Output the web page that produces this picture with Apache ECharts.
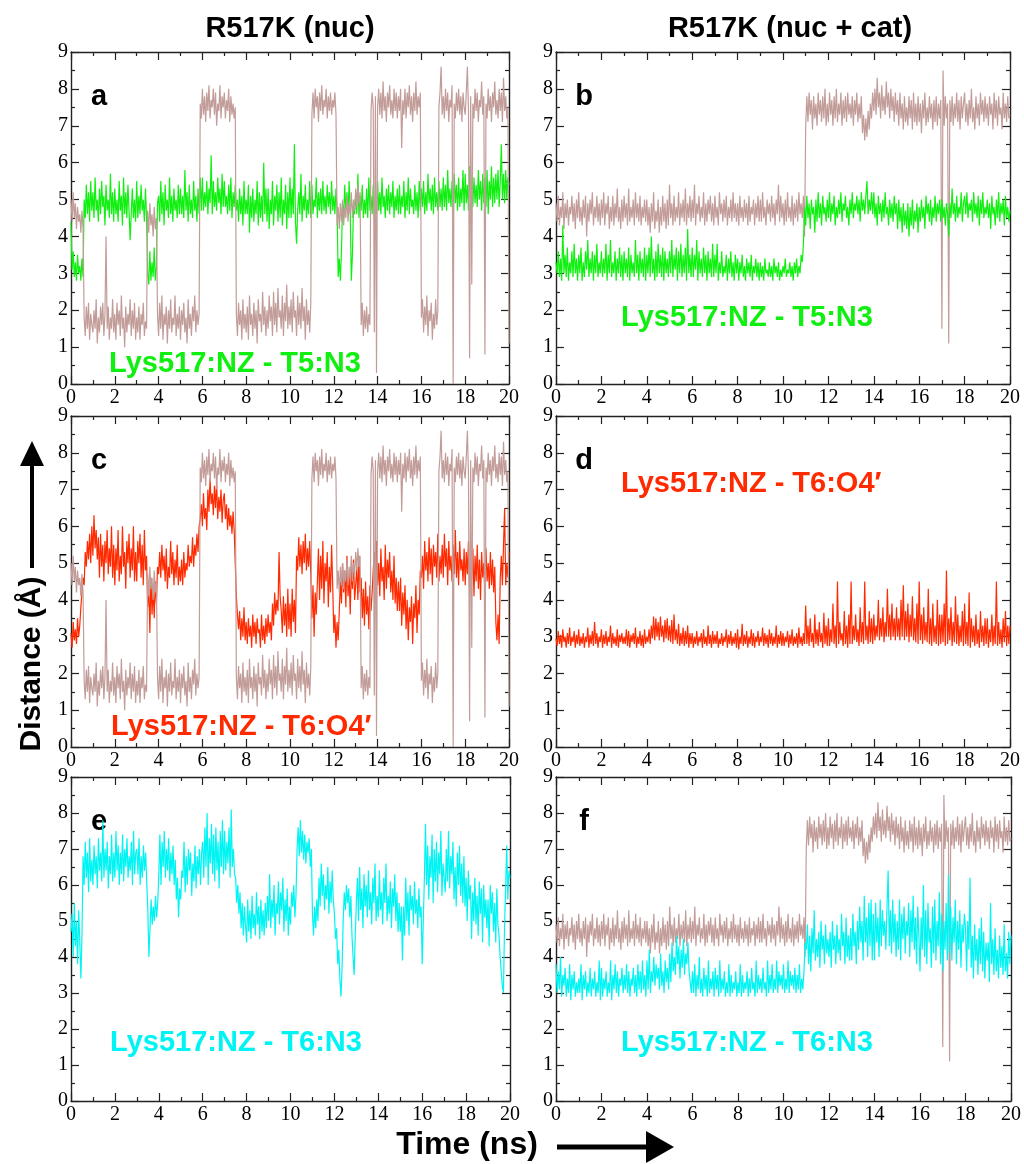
<!DOCTYPE html>
<html>
<head>
<meta charset="utf-8">
<script src="https://cdn.jsdelivr.net/npm/echarts@6/dist/echarts.min.js"></script>
<style>
  html, body { margin: 0; padding: 0; background: #fff; }
  #chart { width: 1024px; height: 1164px; }
</style>
</head>
<body>
<div id="chart"></div>
<script>
// Sampling interval of every trace (ns); traces start at t = 0 and run to 20 ns (401 samples).
const timeStep = 0.05;
const timeTicks = [0, 2, 4, 6, 8, 10, 12, 14, 16, 18, 20];
const distTicks = [0, 1, 2, 3, 4, 5, 6, 7, 8, 9];

// Reference distance (brown) in the nuc-only run, shown in panels a and c. One row = 1 ns.
const brownNuc = [
  5.0, 4.4, 5.2, 4.5, 4.9, 4.2, 4.8, 4.4, 4.6, 4.1, 4.7, 4.2, 1.8, 1.3, 2.1, 1.5, 2.2, 1.2, 1.9, 1.6,
  1.4, 2.0, 1.5, 2.3, 1.1, 1.8, 1.4, 2.1, 1.6, 2.2, 1.3, 1.9, 4.0, 1.5, 2.1, 1.2, 1.8, 1.5, 2.3, 1.4,
  1.9, 1.2, 2.2, 1.6, 2.0, 1.3, 2.4, 1.5, 1.8, 1.0, 2.1, 1.4, 1.9, 1.6, 2.3, 1.3, 2.0, 1.5, 2.2, 1.2,
  1.8, 1.4, 2.1, 1.2, 1.9, 1.6, 2.2, 1.3, 1.7, 1.5, 4.7, 4.1, 4.9, 4.3, 4.6, 4.0, 4.8, 4.2, 4.5, 1.9,
  1.3, 2.2, 1.5, 2.4, 1.2, 1.9, 1.6, 2.1, 1.1, 2.0, 1.5, 2.3, 1.4, 1.8, 1.6, 2.4, 1.3, 1.9, 1.5, 2.1,
  1.2, 2.0, 1.6, 2.2, 1.4, 1.8, 1.1, 2.3, 1.5, 1.9, 1.3, 2.1, 1.7, 2.4, 1.4, 2.0, 1.6, 1.9, 7.6, 7.2,
  8.0, 7.3, 7.8, 7.1, 7.9, 7.4, 8.1, 7.2, 7.7, 7.5, 8.0, 7.3, 7.9, 7.0, 7.6, 7.4, 8.1, 7.2, 7.8, 7.5,
  7.9, 7.2, 7.7, 7.4, 8.0, 7.1, 7.8, 7.3, 7.6, 7.2, 7.5, 1.9, 1.3, 2.2, 1.6, 2.0, 1.2, 2.3, 1.5, 1.9,
  1.4, 2.1, 1.2, 2.4, 1.6, 1.9, 1.3, 2.2, 1.5, 2.0, 1.1, 2.3, 1.7, 1.9, 1.4, 2.5, 1.6, 2.1, 1.3, 2.0,
  1.5, 2.4, 1.7, 2.1, 1.3, 2.5, 1.6, 2.2, 1.4, 2.6, 1.8, 2.0, 1.5, 2.4, 1.3, 2.2, 1.7, 2.7, 1.5, 2.1,
  1.6, 2.3, 1.4, 2.5, 1.8, 2.0, 1.3, 2.4, 1.6, 2.2, 1.5, 2.6, 1.7, 2.1, 1.2, 2.3, 1.6, 2.0, 1.4, 2.2,
  7.3, 7.9, 7.2, 8.0, 7.5, 7.8, 7.1, 7.9, 7.4, 8.1, 7.3, 7.7, 7.5, 8.0, 7.2, 7.8, 7.4, 7.9, 7.3, 7.7,
  7.5, 7.9, 7.3, 4.3, 4.8, 4.2, 4.9, 4.4, 5.0, 4.3, 4.8, 4.5, 5.1, 4.4, 4.9, 4.6, 5.2, 4.5, 5.0, 4.7,
  5.3, 4.8, 5.4, 4.9, 5.2, 1.6, 2.2, 1.3, 2.0, 1.5, 2.1, 1.4, 1.9, 1.6, 7.4, 7.9, 7.5, 1.4, 7.8, 0.3,
  7.5, 8.0, 7.3, 7.9, 7.2, 8.2, 7.4, 7.8, 7.1, 7.9, 7.5, 8.1, 7.3, 7.7, 7.2, 8.0, 7.4, 7.9, 7.2, 7.8,
  7.4, 8.0, 6.4, 7.7, 7.3, 8.0, 7.2, 7.9, 7.5, 8.1, 7.3, 7.8, 7.1, 7.9, 7.4, 8.2, 7.3, 7.8, 7.5, 7.9,
  1.8, 2.3, 1.4, 2.1, 1.6, 2.4, 1.3, 2.0, 1.7, 2.2, 1.2, 1.9, 1.5, 2.3, 1.6, 2.0, 7.5, 7.9, 8.6, 7.3,
  7.8, 7.2, 8.0, 7.4, 7.9, 7.1, 7.7, 7.5, 8.1, 0.0, 7.6, 7.2, 7.9, 7.4, 8.0, 7.3, 7.8, 7.1, 7.9, 7.5,
  7.3, 7.9, 8.6, 7.4, 0.7, 7.8, 2.7, 7.6, 7.2, 8.0, 7.4, 7.9, 7.1, 7.7, 7.5, 8.2, 7.3, 7.8, 0.8, 7.6,
  7.2, 8.0, 7.4, 7.8, 7.1, 7.9, 7.5, 8.2, 7.3, 7.7, 7.2, 8.0, 7.4, 7.9, 7.1, 8.3, 7.4, 7.8, 7.2, 7.5,
  1.1
];

// Reference distance (brown) in the nuc + cat run, shown in panels b and f.
const brownCat = [
  4.9, 4.4, 5.1, 4.3, 4.8, 4.5, 5.2, 4.2, 4.9, 4.5, 5.0, 4.3, 4.8, 4.6, 5.1, 4.4, 4.9, 4.2, 5.0, 4.5,
  5.2, 4.4, 4.8, 4.3, 5.0, 4.5, 5.1, 4.0, 4.9, 4.4, 5.0, 4.6, 5.2, 4.3, 4.8, 4.5, 5.1, 4.4, 4.9, 4.3,
  5.0, 4.5, 5.2, 4.3, 4.9, 4.6, 5.1, 4.2, 4.8, 4.4, 5.1, 4.3, 4.9, 4.5, 5.3, 4.4, 4.8, 4.2, 5.0, 4.4,
  5.1, 4.5, 4.9, 4.3, 5.3, 4.4, 4.8, 4.5, 5.0, 4.3, 5.2, 4.5, 4.9, 4.4, 5.1, 4.3, 4.8, 4.5, 5.0, 4.4,
  5.0, 4.3, 4.8, 4.1, 4.9, 4.4, 5.2, 4.2, 4.7, 4.4, 5.0, 4.1, 4.8, 4.3, 5.1, 4.4, 4.9, 4.2, 5.0, 4.3,
  5.4, 4.5, 4.9, 4.3, 5.1, 4.4, 4.8, 4.5, 5.2, 4.3, 4.9, 4.5, 5.0, 4.4, 5.3, 4.3, 4.9, 4.5, 5.1, 4.4,
  5.0, 4.5, 5.4, 4.3, 4.9, 4.6, 5.1, 4.4, 4.8, 4.5, 5.2, 4.3, 4.9, 4.4, 5.0, 4.6, 5.1, 4.4, 4.9, 4.3,
  5.1, 4.5, 4.8, 4.3, 5.2, 4.6, 4.9, 4.4, 5.0, 4.5, 5.1, 4.3, 4.8, 4.5, 5.0, 4.4, 5.2, 4.5, 4.9, 4.4,
  4.9, 4.3, 5.1, 4.5, 4.8, 4.4, 5.0, 4.5, 4.9, 4.3, 5.1, 4.4, 4.8, 4.6, 5.0, 4.3, 4.9, 4.5, 5.1, 4.4,
  5.0, 4.4, 5.2, 4.5, 4.8, 4.3, 5.0, 4.6, 4.9, 4.4, 5.1, 4.5, 4.9, 4.3, 5.0, 4.6, 5.4, 4.4, 5.1, 4.5,
  4.9, 4.3, 5.0, 4.4, 5.2, 4.5, 4.8, 4.4, 5.1, 4.3, 4.9, 4.5, 5.0, 4.4, 5.2, 4.6, 4.9, 4.5, 5.1, 4.0,
  7.0, 7.8, 7.1, 7.9, 7.3, 7.7, 6.9, 7.8, 7.2, 7.6, 7.0, 7.9, 7.3, 7.7, 7.1, 7.8, 7.2, 8.0, 7.0, 7.6,
  7.1, 7.9, 7.3, 7.7, 7.0, 7.8, 7.2, 8.0, 7.1, 7.6, 7.3, 7.9, 7.0, 7.7, 7.2, 7.8, 7.1, 7.9, 7.3, 7.6,
  7.2, 7.8, 7.0, 7.7, 7.3, 7.9, 7.1, 7.6, 7.2, 7.8, 6.8, 7.3, 6.6, 7.2, 6.7, 7.4, 6.9, 7.6, 7.2, 7.9,
  7.4, 8.0, 7.3, 8.3, 7.5, 7.9, 7.2, 8.1, 7.4, 7.8, 7.3, 8.2, 7.5, 7.9, 7.2, 8.0, 7.4, 7.8, 7.1, 7.9,
  7.3, 7.7, 7.0, 7.9, 7.2, 7.6, 6.9, 7.8, 7.1, 7.5, 7.0, 7.8, 7.2, 7.7, 6.9, 7.9, 7.1, 7.6, 7.0, 7.8,
  7.1, 7.6, 6.8, 7.7, 7.2, 7.9, 7.0, 7.5, 7.1, 7.8, 7.2, 7.6, 6.9, 7.7, 7.1, 7.8, 7.0, 7.6, 7.2, 7.7,
  1.5, 8.5, 7.0, 7.8, 7.2, 7.6, 1.1, 7.7, 7.1, 7.8, 7.0, 7.6, 7.2, 7.9, 7.1, 7.7, 6.9, 7.8, 7.2, 7.6,
  7.9, 7.1, 7.6, 7.0, 7.7, 7.2, 8.0, 7.1, 7.5, 6.9, 7.8, 7.2, 7.6, 7.0, 7.9, 7.3, 7.7, 7.1, 7.8, 7.2,
  7.6, 7.0, 7.8, 7.3, 7.6, 6.9, 7.9, 7.2, 7.7, 7.0, 7.8, 7.3, 7.5, 6.9, 7.9, 7.2, 7.6, 7.1, 7.8, 7.2,
  7.3
];

// Lys517:NZ - T5:N3, nuc run (panel a)
const t5n3Nuc = [
  4.4, 3.1, 3.6, 2.9, 3.3, 2.8, 3.5, 3.0, 3.2, 2.8, 3.4, 2.9, 5.0, 4.5, 5.4, 4.6, 5.2, 4.4, 5.5, 4.7,
  5.2, 4.5, 5.6, 4.7, 5.0, 4.4, 5.3, 4.6, 5.5, 4.8, 5.1, 4.3, 5.4, 4.7, 5.0, 4.5, 5.7, 4.6, 5.2, 4.4,
  5.3, 4.6, 5.0, 4.4, 5.5, 4.7, 5.1, 4.3, 5.6, 4.6, 5.2, 4.5, 5.4, 4.7, 3.9, 4.6, 5.3, 4.5, 5.0, 4.4,
  5.5, 4.5, 5.1, 4.6, 5.4, 4.7, 5.0, 4.4, 5.3, 4.5, 3.0, 2.7, 3.6, 2.8, 3.3, 2.9, 3.7, 2.8, 3.2, 4.9,
  5.1, 4.4, 5.5, 4.6, 5.2, 4.3, 5.4, 4.7, 5.0, 4.5, 5.6, 4.6, 5.1, 4.4, 5.3, 4.7, 5.0, 4.5, 5.4, 4.6,
  5.3, 4.6, 5.1, 4.5, 5.8, 4.7, 5.2, 4.4, 5.4, 4.6, 5.0, 4.5, 5.5, 4.7, 5.1, 4.4, 5.3, 4.6, 5.6, 4.7,
  5.6, 4.7, 5.2, 4.8, 5.5, 4.6, 5.3, 4.9, 6.2, 4.6, 5.5, 4.8, 5.2, 4.7, 5.6, 4.9, 5.3, 4.6, 5.7, 4.8,
  5.5, 4.8, 5.1, 4.6, 5.4, 4.7, 5.6, 4.5, 5.2, 4.8, 5.4, 4.7, 5.0, 4.4, 5.3, 4.6, 5.1, 4.3, 5.5, 4.6,
  5.0, 4.6, 5.4, 4.1, 5.1, 4.5, 5.3, 4.4, 5.0, 4.6, 5.5, 4.3, 5.2, 4.5, 5.1, 4.4, 6.0, 4.6, 5.3, 4.4,
  5.3, 4.2, 5.0, 4.6, 5.5, 4.3, 5.1, 4.7, 5.4, 4.4, 5.2, 4.5, 5.6, 4.3, 5.0, 4.6, 5.4, 4.2, 5.2, 4.5,
  5.6, 4.5, 5.3, 4.6, 6.5, 4.4, 3.8, 4.7, 5.2, 4.6, 5.7, 4.4, 5.1, 4.7, 5.4, 4.5, 5.0, 4.6, 5.5, 4.5,
  5.4, 4.6, 5.0, 4.8, 5.6, 4.5, 5.2, 4.7, 5.3, 4.6, 5.5, 4.7, 5.1, 4.6, 5.4, 4.8, 5.2, 4.6, 5.5, 4.7,
  5.1, 4.6, 5.3, 4.7, 2.9, 3.4, 2.8, 3.6, 4.9, 4.5, 5.4, 4.7, 5.2, 4.6, 5.5, 4.7, 2.8, 3.5, 4.8, 4.6,
  5.2, 4.6, 5.7, 4.5, 5.1, 4.7, 5.4, 4.5, 5.0, 4.6, 5.3, 4.5, 5.6, 4.7, 5.1, 4.6, 5.4, 4.5, 5.0, 4.6,
  5.5, 4.7, 5.2, 4.6, 5.6, 4.8, 5.1, 4.5, 5.3, 4.7, 5.4, 4.6, 5.2, 4.8, 5.5, 4.5, 5.1, 4.7, 5.3, 4.6,
  5.4, 4.6, 5.1, 4.8, 5.5, 4.5, 5.2, 4.7, 5.6, 4.6, 5.3, 4.8, 5.0, 4.6, 5.4, 4.7, 5.2, 4.5, 5.5, 4.7,
  5.3, 4.8, 5.5, 4.6, 5.2, 4.7, 5.7, 4.9, 5.3, 4.7, 5.4, 4.6, 5.6, 4.8, 5.2, 4.7, 5.5, 4.8, 5.3, 4.7,
  5.6, 4.8, 5.4, 4.7, 5.8, 4.9, 5.3, 4.8, 5.5, 4.6, 5.7, 4.9, 5.4, 4.7, 5.6, 4.8, 5.3, 4.9, 5.8, 4.7,
  5.7, 4.9, 5.4, 4.7, 5.9, 5.0, 5.5, 4.8, 5.6, 4.9, 5.4, 4.8, 5.8, 5.0, 5.5, 4.7, 5.7, 4.9, 5.6, 4.8,
  5.8, 4.6, 5.5, 5.0, 5.9, 4.8, 5.6, 4.9, 5.7, 5.0, 5.8, 4.8, 5.5, 6.5, 5.0, 5.7, 4.9, 5.8, 5.0, 5.6,
  5.4
];

// Lys517:NZ - T5:N3, nuc + cat run (panel b)
const t5n3Cat = [
  3.3, 3.0, 3.6, 2.9, 3.4, 2.8, 4.3, 3.0, 3.5, 2.9, 3.7, 2.8, 3.3, 3.0, 3.6, 2.9, 3.8, 3.0, 3.4, 2.8,
  3.5, 3.0, 3.7, 2.8, 3.3, 2.9, 3.6, 3.1, 3.9, 2.9, 3.4, 3.0, 3.6, 2.8, 3.5, 3.0, 3.8, 2.9, 3.3, 3.0,
  3.6, 2.9, 3.4, 3.0, 3.8, 2.8, 3.5, 3.0, 3.9, 2.9, 3.3, 3.0, 3.6, 2.8, 3.4, 3.0, 3.7, 2.9, 3.5, 2.8,
  3.6, 3.0, 3.4, 2.9, 3.7, 2.8, 3.5, 3.0, 3.3, 2.9, 3.9, 3.0, 3.5, 2.8, 3.6, 3.0, 3.4, 2.9, 3.7, 2.8,
  3.5, 3.0, 3.7, 2.9, 4.0, 3.0, 3.4, 2.8, 3.6, 2.9, 3.8, 3.0, 3.5, 2.9, 3.7, 2.8, 3.6, 3.0, 3.4, 2.9,
  3.6, 3.0, 3.9, 2.9, 3.5, 3.1, 3.7, 2.8, 3.6, 3.0, 3.8, 2.9, 3.5, 3.0, 3.7, 2.8, 4.2, 3.0, 3.5, 2.9,
  3.7, 2.9, 3.5, 3.1, 3.9, 2.8, 3.6, 3.0, 3.4, 2.9, 3.7, 3.0, 3.5, 2.8, 3.6, 3.0, 3.4, 2.9, 3.8, 2.9,
  3.5, 3.0, 3.8, 2.8, 3.3, 3.0, 3.6, 2.9, 3.2, 3.0, 3.5, 2.8, 3.4, 3.0, 3.6, 2.9, 3.3, 2.8, 3.5, 3.0,
  3.4, 2.8, 3.3, 3.0, 3.5, 2.9, 3.2, 2.8, 3.4, 3.0, 3.3, 2.9, 3.5, 2.8, 3.2, 3.0, 3.4, 2.9, 3.3, 2.8,
  3.3, 2.9, 3.2, 2.8, 3.4, 3.0, 3.1, 2.9, 3.3, 2.9, 3.2, 2.8, 3.4, 3.0, 3.2, 2.9, 3.3, 2.8, 3.1, 2.9,
  3.2, 3.0, 3.4, 2.9, 3.1, 3.0, 3.3, 2.9, 3.2, 2.8, 3.3, 3.0, 3.4, 2.9, 3.2, 3.0, 3.5, 3.3, 3.8, 4.8,
  4.3, 5.1, 4.5, 4.9, 4.2, 5.0, 4.6, 4.8, 4.1, 5.0, 4.4, 5.2, 4.5, 4.9, 4.3, 5.1, 4.6, 4.8, 4.4, 5.0,
  4.5, 5.2, 4.4, 4.9, 4.6, 5.1, 4.3, 4.8, 4.5, 5.0, 4.6, 5.2, 4.4, 4.9, 4.7, 5.1, 4.5, 4.8, 4.3, 5.0,
  4.6, 5.2, 4.5, 4.9, 4.7, 5.1, 4.6, 5.0, 4.4, 5.2, 4.7, 5.0, 4.6, 5.1, 5.5, 4.6, 5.0, 4.7, 5.2, 4.6,
  5.2, 4.5, 4.9, 4.3, 5.1, 4.6, 4.9, 4.4, 5.0, 4.5, 5.2, 4.6, 4.8, 4.3, 5.0, 4.5, 4.9, 4.4, 5.1, 4.6,
  4.9, 4.2, 5.0, 4.4, 4.8, 4.1, 4.9, 4.3, 4.7, 4.2, 4.9, 4.0, 4.8, 4.3, 5.0, 4.2, 4.7, 4.4, 4.9, 4.1,
  4.8, 4.4, 5.0, 4.5, 4.8, 4.2, 5.1, 4.6, 4.9, 4.4, 5.0, 4.3, 4.8, 4.5, 5.1, 4.4, 4.9, 4.6, 5.0, 4.4,
  5.0, 4.5, 4.8, 4.3, 4.9, 4.6, 4.0, 4.9, 4.5, 5.3, 4.6, 4.9, 4.4, 5.1, 4.5, 4.8, 4.6, 5.2, 4.4, 4.9,
  5.1, 4.6, 5.2, 4.5, 4.9, 4.7, 5.0, 4.4, 5.2, 4.6, 4.9, 4.5, 5.1, 4.3, 5.0, 4.6, 5.2, 4.5, 4.8, 4.6,
  5.0, 4.5, 4.9, 4.2, 5.1, 4.6, 4.8, 4.3, 5.0, 4.5, 5.2, 4.4, 4.9, 4.6, 5.0, 4.3, 5.1, 4.5, 4.8, 4.4,
  4.7
];

// Lys517:NZ - T6:O4', nuc run (panel c)
const t6o4Nuc = [
  3.1, 2.7, 3.4, 2.9, 3.2, 2.8, 3.5, 3.0, 3.3, 3.8, 4.2, 4.6, 4.4, 5.3, 4.9, 5.6, 5.1, 5.8, 5.0, 6.0,
  5.2, 6.3, 5.4, 5.9, 5.1, 5.7, 4.6, 5.8, 4.9, 5.5, 4.5, 5.6, 5.0, 5.9, 4.7, 5.4, 4.9, 6.0, 4.6, 5.5,
  4.4, 5.4, 4.8, 5.9, 4.5, 5.2, 4.7, 6.0, 4.9, 5.3, 4.3, 5.6, 5.0, 5.8, 4.6, 5.4, 4.8, 6.0, 4.5, 5.3,
  4.5, 5.6, 5.0, 5.8, 4.6, 5.5, 4.4, 5.9, 4.8, 5.2, 3.8, 4.4, 3.1, 4.6, 3.6, 4.3, 3.5, 4.5, 3.9, 4.9,
  4.7, 5.3, 4.6, 5.5, 4.8, 5.2, 4.5, 5.4, 4.3, 4.9, 4.6, 5.6, 4.7, 5.3, 4.4, 5.1, 4.6, 5.5, 4.4, 4.9,
  4.5, 5.1, 4.4, 5.3, 4.6, 5.0, 4.8, 5.5, 4.9, 5.2, 5.0, 5.7, 4.9, 5.5, 5.2, 5.8, 5.3, 6.0, 6.2, 6.6,
  6.0, 6.9, 6.2, 6.5, 5.9, 7.0, 6.4, 7.3, 6.6, 6.9, 6.3, 7.1, 6.5, 7.2, 6.2, 6.8, 6.4, 7.0, 6.1, 6.7,
  6.9, 6.2, 6.6, 5.9, 6.5, 6.0, 6.3, 5.8, 6.4, 5.9, 5.0, 4.1, 3.6, 3.2, 3.7, 2.9, 3.5, 3.0, 3.8, 2.9,
  3.4, 2.8, 3.5, 3.0, 3.3, 2.7, 3.6, 3.0, 3.4, 2.8, 3.5, 3.1, 3.2, 2.7, 3.6, 2.9, 3.3, 2.8, 3.5, 3.0,
  3.6, 3.1, 3.4, 2.9, 3.9, 3.3, 4.2, 3.6, 4.0, 3.7, 5.3, 4.1, 3.7, 3.1, 4.1, 3.3, 3.9, 3.0, 4.3, 3.2,
  3.9, 3.0, 4.3, 3.4, 4.0, 3.1, 5.2, 4.8, 5.7, 4.9, 5.5, 4.7, 5.6, 5.0, 5.8, 4.8, 5.4, 4.9, 5.6, 4.7,
  3.5, 4.4, 3.0, 4.2, 3.6, 4.5, 5.4, 4.0, 5.2, 4.3, 5.6, 3.9, 5.0, 4.5, 5.3, 3.8, 4.9, 4.2, 5.5, 4.4,
  3.1, 3.6, 2.7, 3.4, 2.9, 3.7, 4.5, 3.9, 5.0, 4.2, 4.8, 3.8, 5.2, 4.1, 4.7, 3.6, 4.9, 4.3, 5.1, 4.0,
  4.4, 4.9, 4.0, 5.2, 4.2, 4.6, 3.5, 4.3, 3.3, 4.5, 3.6, 4.1, 3.2, 4.4, 3.7, 4.2, 4.8, 5.3, 4.3, 5.6,
  4.4, 5.0, 4.1, 5.4, 4.5, 4.9, 4.0, 5.5, 4.3, 5.1, 4.6, 5.3, 4.2, 4.8, 4.0, 5.2, 3.9, 4.6, 3.7, 4.5,
  3.7, 4.6, 3.3, 4.2, 3.6, 4.4, 3.2, 4.0, 2.9, 3.8, 3.4, 4.1, 2.8, 3.9, 3.5, 4.4, 3.1, 4.0, 3.6, 4.8,
  4.6, 5.2, 4.3, 5.6, 4.8, 5.3, 4.5, 5.7, 4.7, 5.4, 4.4, 5.5, 4.9, 5.3, 4.6, 5.8, 4.5, 5.2, 4.7, 5.5,
  4.6, 5.8, 4.9, 5.4, 4.4, 5.6, 4.8, 5.2, 4.5, 5.5, 4.7, 5.9, 4.6, 5.3, 4.4, 5.6, 4.8, 5.1, 4.5, 5.4,
  4.4, 5.3, 4.7, 5.6, 4.2, 5.0, 4.6, 5.4, 4.1, 5.2, 4.5, 5.5, 4.3, 5.1, 4.0, 5.3, 4.6, 5.0, 4.2, 5.4,
  4.5, 5.0, 4.3, 5.3, 4.4, 5.1, 4.2, 4.9, 3.4, 2.9, 3.6, 2.8, 4.6, 5.2, 4.4, 5.5, 6.5, 4.4, 5.0, 4.6,
  5.3
];

// Lys517:NZ - T6:O4', nuc + cat run (panel d)
const t6o4Cat = [
  2.95, 2.75, 3.15, 2.8, 3.05, 2.7, 3.2, 2.85, 3.0, 2.7, 3.1, 2.8, 3.25, 2.75, 3.0, 2.85, 3.15, 2.7, 3.05, 2.8,
  3.2, 2.75, 3.0, 2.8, 3.1, 2.7, 3.0, 2.85, 3.25, 2.7, 3.05, 2.8, 3.15, 2.75, 3.4, 2.8, 3.1, 2.7, 3.0, 2.85,
  3.2, 2.7, 3.05, 2.8, 3.15, 2.75, 3.0, 2.85, 3.3, 2.7, 3.1, 2.8, 3.0, 2.75, 3.2, 2.7, 3.05, 2.85, 3.1, 2.8,
  3.0, 2.8, 3.2, 2.75, 3.15, 2.7, 3.05, 2.85, 3.1, 2.8, 3.25, 2.7, 3.0, 2.8, 3.15, 2.75, 3.05, 2.7, 3.2, 2.8,
  3.0, 2.85, 3.2, 2.8, 3.3, 2.95, 3.55, 2.9, 3.5, 3.0, 3.4, 2.9, 3.55, 3.0, 3.3, 2.85, 3.45, 2.95, 3.5, 2.9,
  3.3, 2.85, 3.45, 2.8, 3.6, 2.9, 3.2, 2.8, 3.35, 2.75, 3.1, 2.8, 3.25, 2.75, 3.15, 2.8, 3.3, 2.7, 3.1, 2.8,
  3.1, 2.7, 3.0, 2.8, 3.15, 2.75, 3.0, 2.85, 3.1, 2.7, 3.2, 2.8, 3.0, 2.75, 3.3, 2.8, 3.05, 2.7, 3.15, 2.8,
  3.05, 2.8, 3.15, 2.7, 2.95, 2.8, 3.1, 2.75, 3.0, 2.85, 3.2, 2.7, 3.05, 2.8, 3.15, 2.75, 3.0, 2.8, 3.1, 2.7,
  3.2, 2.65, 3.0, 2.8, 3.35, 2.75, 3.05, 2.8, 3.15, 2.7, 3.0, 2.8, 3.2, 2.75, 3.1, 2.7, 3.0, 2.85, 3.15, 2.75,
  3.0, 2.85, 3.25, 2.75, 3.1, 2.8, 3.05, 2.7, 3.2, 2.8, 3.1, 2.75, 3.0, 2.8, 3.3, 2.7, 3.05, 2.8, 3.15, 2.75,
  3.1, 2.75, 3.0, 2.85, 3.15, 2.7, 3.05, 2.8, 3.2, 2.75, 3.0, 2.8, 3.1, 2.7, 3.25, 2.8, 3.0, 2.75, 3.1, 2.8,
  3.85, 2.8, 3.3, 2.75, 3.5, 2.85, 3.1, 2.7, 3.6, 2.8, 3.2, 2.75, 3.4, 2.85, 3.1, 2.7, 3.65, 2.8, 3.3, 2.75,
  3.5, 2.75, 3.2, 2.85, 3.9, 2.8, 3.3, 2.7, 4.5, 2.8, 3.4, 2.9, 3.1, 2.75, 3.7, 2.8, 3.3, 2.7, 3.6, 2.8,
  4.5, 2.8, 3.3, 2.9, 3.6, 2.85, 3.2, 2.75, 3.8, 2.85, 3.4, 2.8, 4.5, 2.9, 3.3, 2.8, 3.7, 2.85, 3.5, 2.8,
  3.6, 2.9, 3.3, 3.0, 4.0, 2.9, 3.5, 3.0, 3.8, 2.85, 3.4, 3.0, 4.3, 3.0, 3.6, 2.9, 3.9, 3.0, 3.5, 2.9,
  3.8, 3.0, 3.5, 2.9, 4.0, 3.0, 4.4, 2.9, 3.7, 3.0, 3.9, 2.85, 3.6, 3.0, 4.1, 2.9, 3.5, 2.85, 3.9, 2.8,
  4.5, 2.9, 3.6, 2.8, 3.8, 2.9, 3.4, 2.85, 4.3, 2.8, 3.5, 2.75, 3.9, 2.85, 3.3, 2.8, 4.0, 2.75, 3.6, 2.8,
  3.6, 2.85, 3.9, 2.75, 4.8, 2.8, 3.5, 2.9, 3.8, 2.75, 3.4, 2.85, 4.1, 2.8, 3.6, 2.75, 3.3, 2.85, 3.7, 2.75,
  3.9, 2.8, 3.4, 2.75, 4.2, 2.7, 3.5, 2.85, 3.3, 2.75, 3.6, 2.8, 3.2, 2.7, 3.7, 2.85, 3.3, 2.75, 3.5, 2.8,
  3.5, 2.7, 3.2, 2.85, 3.6, 2.75, 3.3, 2.8, 4.5, 2.75, 3.4, 2.8, 3.2, 2.7, 3.5, 2.85, 3.7, 2.75, 3.3, 2.8,
  3.3
];

// Lys517:NZ - T6:N3, nuc run (panel e)
const t6n3Nuc = [
  4.7, 5.2, 4.0, 5.5, 4.3, 5.0, 3.8, 5.3, 4.4, 3.4, 4.6, 6.8, 6.0, 7.2, 6.2, 6.9, 5.8, 7.3, 6.1, 6.7,
  6.0, 7.1, 6.3, 6.8, 5.9, 7.3, 6.4, 6.9, 6.1, 7.8, 6.2, 7.0, 6.4, 7.2, 5.9, 6.8, 6.3, 7.4, 6.1, 6.9,
  6.2, 7.5, 6.4, 7.1, 6.0, 6.9, 6.3, 7.4, 6.1, 7.0, 6.5, 7.3, 6.2, 6.8, 6.4, 7.2, 6.0, 7.5, 6.3, 6.9,
  7.0, 6.3, 7.3, 6.0, 6.8, 6.2, 7.1, 6.4, 6.9, 6.1, 5.3, 4.0, 4.8, 5.6, 4.9, 5.4, 5.0, 5.7, 5.1, 5.5,
  6.3, 7.4, 6.0, 7.2, 6.5, 7.5, 6.2, 7.0, 6.4, 7.3, 6.1, 6.9, 6.3, 7.1, 6.0, 6.7, 5.6, 6.2, 5.1, 5.9,
  5.6, 6.4, 6.2, 7.2, 5.8, 6.8, 6.0, 7.0, 6.4, 6.9, 5.7, 6.6, 6.1, 7.1, 5.9, 6.8, 6.3, 7.0, 6.0, 6.9,
  7.2, 6.2, 7.6, 6.5, 8.0, 6.0, 7.3, 6.6, 7.7, 6.3, 7.4, 6.1, 7.6, 6.4, 7.2, 5.9, 7.5, 6.5, 7.8, 6.3,
  7.5, 6.4, 7.2, 6.6, 7.6, 6.2, 8.1, 6.5, 7.0, 6.3, 6.2, 5.5, 6.0, 5.2, 5.8, 4.8, 5.5, 4.6, 5.4, 4.9,
  4.4, 5.6, 4.7, 5.3, 4.5, 5.7, 4.8, 5.2, 4.6, 5.8, 4.9, 5.4, 4.5, 5.6, 4.7, 5.3, 4.6, 5.5, 4.8, 5.7,
  5.0, 6.3, 4.8, 5.6, 5.1, 6.0, 4.6, 5.5, 5.2, 6.1, 4.9, 5.8, 5.3, 6.2, 4.7, 5.6, 5.0, 5.9, 4.6, 5.4,
  4.9, 5.8, 5.4, 6.0, 5.1, 5.7, 7.0, 7.6, 6.8, 7.8, 6.9, 7.5, 6.7, 7.4, 6.6, 7.2, 6.9, 7.3, 6.5, 7.0,
  5.2, 4.6, 5.4, 4.8, 5.6, 5.0, 6.2, 5.4, 6.6, 5.7, 6.3, 5.3, 6.0, 5.6, 6.5, 5.2, 6.1, 5.5, 6.4, 5.6,
  5.2, 4.5, 4.8, 3.8, 4.2, 3.4, 2.9, 3.7, 5.0, 5.8, 5.3, 6.0, 5.5, 5.9, 5.1, 5.7, 4.6, 4.0, 3.5, 4.6,
  5.5, 6.2, 5.0, 6.5, 5.3, 5.9, 4.8, 6.3, 5.4, 6.0, 5.1, 6.4, 5.3, 5.8, 4.9, 6.2, 5.5, 6.6, 5.0, 5.7,
  5.1, 6.4, 5.3, 5.8, 4.9, 6.2, 5.5, 6.6, 5.0, 5.7, 5.2, 6.1, 4.8, 5.9, 5.4, 6.3, 5.0, 5.8, 4.7, 5.5,
  4.7, 5.4, 3.9, 5.4, 4.6, 6.2, 5.0, 5.8, 4.6, 6.0, 5.3, 5.7, 4.9, 6.1, 5.2, 5.6, 4.8, 5.9, 5.1, 5.4,
  3.8, 5.0, 6.2, 7.7, 6.0, 7.1, 5.6, 6.8, 6.2, 7.4, 5.5, 7.0, 6.1, 7.2, 5.8, 6.9, 6.3, 7.5, 5.7, 6.6,
  6.6, 5.8, 7.0, 6.1, 7.5, 5.9, 6.8, 6.3, 7.2, 5.6, 6.5, 5.4, 6.9, 6.0, 7.1, 5.7, 6.6, 5.5, 6.8, 5.4,
  6.2, 5.0, 6.4, 5.6, 6.0, 4.5, 5.8, 5.0, 6.2, 4.9, 5.7, 4.6, 6.1, 5.2, 5.9, 4.4, 6.0, 5.1, 5.6, 4.8,
  5.6, 4.3, 6.0, 5.2, 5.8, 4.7, 5.5, 4.4, 5.9, 4.9, 4.6, 4.0, 3.6, 3.2, 3.0, 4.8, 5.9, 7.1, 5.6, 6.4,
  6.2
];

// Lys517:NZ - T6:N3, nuc + cat run (panel f)
const t6n3Cat = [
  3.8, 3.0, 3.6, 3.1, 4.0, 2.9, 3.5, 3.2, 3.7, 2.9, 3.4, 3.0, 3.8, 2.8, 3.5, 3.1, 3.6, 2.9, 3.3, 3.0,
  3.4, 3.0, 3.8, 2.8, 3.5, 3.1, 3.6, 2.9, 3.3, 3.0, 3.7, 2.9, 3.4, 3.1, 3.6, 2.9, 3.3, 3.0, 3.9, 2.8,
  3.7, 2.9, 3.4, 3.1, 3.6, 2.9, 3.3, 3.0, 3.9, 2.8, 3.5, 3.1, 3.8, 3.0, 3.6, 2.9, 3.4, 3.2, 3.7, 3.0,
  3.5, 3.1, 3.8, 3.0, 3.6, 2.9, 3.4, 3.2, 3.7, 3.0, 3.5, 2.9, 3.8, 3.1, 3.6, 3.0, 3.9, 3.1, 3.5, 2.9,
  3.9, 3.1, 4.2, 3.0, 3.6, 3.3, 4.0, 3.2, 3.8, 3.4, 3.7, 3.1, 4.1, 3.2, 3.6, 3.0, 3.9, 3.3, 3.7, 3.1,
  4.1, 3.3, 4.4, 3.6, 4.0, 3.5, 4.6, 3.8, 4.3, 3.4, 4.2, 3.7, 4.5, 3.5, 4.1, 3.8, 4.4, 3.6, 3.6, 3.0,
  3.6, 3.0, 3.8, 2.9, 3.5, 3.1, 4.0, 3.0, 3.4, 2.9, 3.7, 3.1, 3.5, 2.9, 3.9, 3.0, 3.4, 3.1, 3.6, 2.9,
  3.7, 3.1, 3.5, 2.9, 3.9, 3.0, 3.4, 3.1, 3.6, 2.9, 3.3, 3.0, 3.8, 2.9, 3.5, 3.0, 3.3, 3.1, 3.6, 2.9,
  3.3, 3.0, 3.8, 2.9, 3.5, 3.0, 3.3, 3.1, 3.6, 2.9, 3.4, 3.0, 3.7, 3.1, 3.3, 2.9, 3.9, 3.0, 3.5, 3.1,
  3.4, 3.0, 3.7, 3.1, 3.3, 2.9, 3.9, 3.0, 3.5, 3.1, 3.8, 3.0, 3.4, 3.1, 3.9, 3.0, 3.6, 3.2, 3.5, 3.1,
  3.8, 3.0, 3.4, 3.1, 3.9, 3.0, 3.6, 3.2, 3.5, 3.1, 3.7, 3.0, 3.5, 3.1, 3.8, 3.0, 3.4, 3.1, 3.6, 4.4,
  4.2, 4.9, 3.8, 4.6, 3.6, 4.8, 4.1, 5.3, 3.9, 4.5, 4.0, 4.7, 3.7, 5.0, 4.2, 4.6, 3.8, 4.9, 4.1, 4.5,
  4.0, 4.7, 3.7, 5.0, 4.2, 4.6, 3.8, 4.9, 4.1, 4.5, 3.9, 5.2, 4.3, 4.7, 3.8, 5.1, 4.0, 4.6, 3.9, 4.8,
  3.9, 5.2, 4.3, 4.7, 3.8, 5.0, 4.2, 5.4, 4.4, 5.0, 3.9, 5.7, 4.4, 5.1, 4.0, 5.5, 4.3, 5.6, 3.9, 5.2,
  3.9, 5.5, 4.4, 5.1, 4.0, 5.6, 4.3, 5.3, 4.6, 5.0, 4.2, 5.4, 6.4, 4.3, 5.3, 4.1, 5.6, 4.4, 5.2, 4.0,
  5.0, 4.2, 5.6, 3.9, 5.2, 4.5, 5.4, 4.1, 5.0, 4.6, 5.5, 4.0, 5.3, 4.4, 5.7, 4.2, 5.1, 3.8, 5.4, 4.6,
  3.6, 5.1, 4.2, 6.0, 4.0, 5.3, 3.8, 5.5, 4.4, 4.8, 3.7, 5.4, 4.1, 5.6, 3.9, 5.0, 4.3, 5.8, 3.8, 5.2,
  3.6, 5.0, 4.2, 5.5, 3.9, 6.3, 4.1, 5.4, 3.9, 5.1, 4.4, 5.6, 3.8, 5.0, 4.2, 5.3, 3.7, 4.9, 4.4, 5.2,
  4.8, 3.6, 5.0, 4.2, 6.2, 3.7, 4.6, 3.4, 4.9, 3.9, 4.5, 3.5, 4.8, 3.8, 5.1, 3.6, 4.7, 3.4, 4.4, 3.9,
  4.4, 3.3, 5.5, 3.8, 4.5, 3.5, 4.8, 3.6, 4.2, 3.4, 4.6, 3.7, 4.3, 3.5, 4.9, 3.6, 4.1, 3.4, 4.7, 3.8,
  4.6
];

const GREEN = '#10f010';
const BROWN = '#c29c98';
const RED = '#ff2a00';
const CYAN = '#00f4f4';
const LABEL_FONT = '"Liberation Sans", Arial, Helvetica, sans-serif';
const TICK_FONT = '"Liberation Serif", "Times New Roman", serif';
const TRACE_WIDTH = 1.2;

// Panel layout: plot rectangles, traces (drawn in order) and captions.
const panels = [
  { letter: 'a', rect: { left: 71, top: 52, width: 438, height: 332 },
    traces: [[t5n3Nuc, GREEN], [brownNuc, BROWN]],
    caption: { text: 'Lys517:NZ - T5:N3', color: GREEN, x: 109, y: 364 } },
  { letter: 'b', rect: { left: 556, top: 52, width: 454, height: 332 },
    traces: [[brownCat, BROWN], [t5n3Cat, GREEN]],
    caption: { text: 'Lys517:NZ - T5:N3', color: GREEN, x: 621, y: 318 } },
  { letter: 'c', rect: { left: 71, top: 416, width: 438, height: 331 },
    traces: [[t6o4Nuc, RED], [brownNuc, BROWN]],
    caption: { text: 'Lys517:NZ - T6:O4\u2032', color: RED, x: 111, y: 727 } },
  { letter: 'd', rect: { left: 556, top: 416, width: 454, height: 331 },
    traces: [[t6o4Cat, RED]],
    caption: { text: 'Lys517:NZ - T6:O4\u2032', color: RED, x: 621, y: 484 } },
  { letter: 'e', rect: { left: 71, top: 777, width: 439, height: 324 },
    traces: [[t6n3Nuc, CYAN]],
    caption: { text: 'Lys517:NZ - T6:N3', color: CYAN, x: 110, y: 1043 } },
  { letter: 'f', rect: { left: 556, top: 777, width: 455, height: 324 },
    traces: [[brownCat, BROWN], [t6n3Cat, CYAN]],
    caption: { text: 'Lys517:NZ - T6:N3', color: CYAN, x: 621, y: 1043 } }
];

const toPoints = arr => arr.map((v, i) => [Math.round(i * timeStep * 100) / 100, v]);

const frameLine = { show: true, onZero: false, lineStyle: { color: '#222', width: 1.4 } };
const tickStyle = { color: '#222', width: 1.2 };

function xAxisFor(g, top) {
  return {
    type: 'value', gridIndex: g, position: top ? 'top' : 'bottom',
    min: timeTicks[0], max: timeTicks[timeTicks.length - 1], interval: timeTicks[1] - timeTicks[0],
    axisLine: frameLine,
    axisTick: { show: true, inside: true, length: 8, lineStyle: tickStyle },
    minorTick: { show: true, splitNumber: 2, length: 4, lineStyle: tickStyle },
    splitLine: { show: false }, minorSplitLine: { show: false },
    axisLabel: { show: !top, color: '#000', fontFamily: TICK_FONT, fontSize: 20, margin: 4 }
  };
}
function yAxisFor(g, right) {
  return {
    type: 'value', gridIndex: g, position: right ? 'right' : 'left',
    min: distTicks[0], max: distTicks[distTicks.length - 1], interval: distTicks[1] - distTicks[0],
    axisLine: frameLine,
    axisTick: { show: true, inside: true, length: 8, lineStyle: tickStyle },
    minorTick: { show: true, splitNumber: 2, length: 4, lineStyle: tickStyle },
    splitLine: { show: false }, minorSplitLine: { show: false },
    axisLabel: { show: !right, color: '#000', fontFamily: TICK_FONT, fontSize: 20, margin: 3 }
  };
}

const grid = [], xAxis = [], yAxis = [], series = [], graphic = [];
panels.forEach((p, g) => {
  grid.push(Object.assign({ containLabel: false }, p.rect));
  // main axes at even indices, mirrored frame axes (top / right) at odd ones
  xAxis.push(xAxisFor(g, false), xAxisFor(g, true));
  yAxis.push(yAxisFor(g, false), yAxisFor(g, true));
  p.traces.forEach(([arr, color]) => {
    series.push({
      type: 'line', xAxisIndex: g * 2, yAxisIndex: g * 2,
      data: toPoints(arr), showSymbol: false, symbol: 'none', sampling: 'none',
      lineStyle: { color, width: TRACE_WIDTH },
      itemStyle: { color },
      animation: false, silent: true
    });
  });
  graphic.push({
    type: 'text', x: p.rect.left + 28, y: p.rect.top + 45,
    style: { text: p.letter, x: 0, y: 0, align: 'center', verticalAlign: 'middle',
             font: 'bold 29px ' + LABEL_FONT, fill: '#000' }
  });
  graphic.push({
    type: 'text', x: p.caption.x, y: p.caption.y,
    style: { text: p.caption.text, x: 0, y: 0, align: 'left', verticalAlign: 'middle',
             font: 'bold 29px ' + LABEL_FONT, fill: p.caption.color }
  });
});

// column headings
graphic.push({ type: 'text', x: 290, y: 29,
  style: { text: 'R517K (nuc)', x: 0, y: 0, align: 'center', verticalAlign: 'middle',
           font: 'bold 29px ' + LABEL_FONT, fill: '#000' } });
graphic.push({ type: 'text', x: 790, y: 29,
  style: { text: 'R517K (nuc + cat)', x: 0, y: 0, align: 'center', verticalAlign: 'middle',
           font: 'bold 29px ' + LABEL_FONT, fill: '#000' } });

// shared axis titles with arrows
graphic.push({ type: 'text', x: 32, y: 664, rotation: Math.PI / 2,
  style: { text: 'Distance (\u00C5)', x: 0, y: 0, align: 'center', verticalAlign: 'middle',
           font: 'bold 30px ' + LABEL_FONT, fill: '#000' } });
graphic.push({ type: 'line', shape: { x1: 32, y1: 568, x2: 32, y2: 462 },
  style: { stroke: '#000', lineWidth: 4 } });
graphic.push({ type: 'polygon', shape: { points: [[20, 466], [44, 466], [32, 441]] },
  style: { fill: '#000' } });

graphic.push({ type: 'text', x: 467, y: 1145,
  style: { text: 'Time (ns)', x: 0, y: 0, align: 'center', verticalAlign: 'middle',
           font: 'bold 32px ' + LABEL_FONT, fill: '#000' } });
graphic.push({ type: 'line', shape: { x1: 557, y1: 1147, x2: 650, y2: 1147 },
  style: { stroke: '#000', lineWidth: 5 } });
graphic.push({ type: 'polygon', shape: { points: [[646, 1131], [646, 1163], [674, 1147]] },
  style: { fill: '#000' } });

const chart = echarts.init(document.getElementById('chart'), null, { renderer: 'canvas' });
chart.setOption({
  backgroundColor: '#fff',
  animation: false,
  grid, xAxis, yAxis, series, graphic
});
</script>
</body>
</html>
